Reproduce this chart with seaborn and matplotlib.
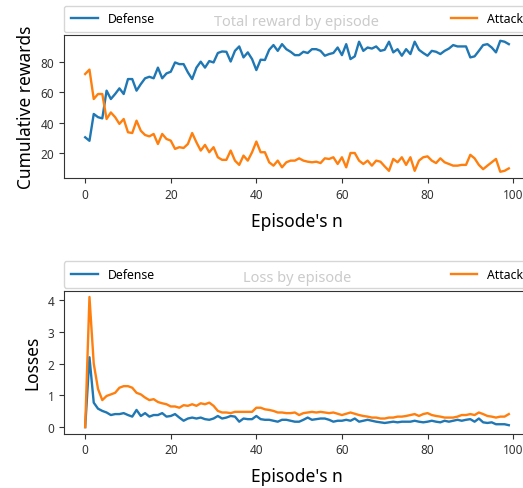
import numpy as np
import pandas as pd
import matplotlib
matplotlib.use("Agg")
import matplotlib.pyplot as plt
import seaborn as sns

plt.rcParams['font.family'] = ['Noto Sans', 'DejaVu Sans']

episodes = list(range(100))

reward_defense = [
    30.3, 28.0, 45.6, 43.5, 42.7, 60.9, 55.4, 58.7, 62.4, 58.7,
    68.5, 68.5, 60.9, 65.2, 69.0, 70.0, 69.0, 76.0, 69.0, 72.2,
    73.3, 79.4, 78.3, 78.3, 72.9, 68.5, 76.0, 79.9, 76.0, 80.3,
    79.4, 85.6, 86.6, 86.4, 80.0, 87.0, 89.9, 82.7, 86.0, 81.6,
    74.4, 81.2, 81.0, 87.7, 90.8, 87.0, 91.4, 88.1, 86.4, 84.2,
    84.2, 86.4, 85.6, 88.1, 88.1, 87.0, 83.8, 84.9, 85.6, 89.2,
    84.2, 91.4, 81.6, 83.4, 93.0, 87.0, 89.2, 88.5, 89.9, 87.0,
    87.7, 93.0, 86.0, 88.1, 83.8, 88.1, 84.9, 93.0, 87.7, 85.6,
    83.8, 87.0, 86.4, 84.9, 87.0, 88.5, 90.8, 89.9, 89.9, 89.9,
    82.7, 83.4, 87.0, 90.8, 91.4, 89.2, 86.0, 93.6, 93.0, 91.4,
]
reward_attack = [
    71.8, 74.7, 55.4, 58.7, 58.7, 42.3, 46.6, 43.5, 39.1, 42.3,
    33.6, 33.1, 41.2, 34.6, 31.8, 30.9, 32.5, 25.9, 32.5, 29.2,
    28.1, 22.7, 23.8, 23.3, 25.9, 33.1, 27.0, 21.6, 25.3, 20.5,
    23.8, 17.2, 15.5, 15.5, 21.6, 15.0, 12.2, 18.3, 15.0, 20.5,
    27.5, 20.5, 20.5, 13.9, 11.7, 15.0, 10.6, 13.9, 15.0, 15.0,
    16.5, 15.0, 14.3, 13.9, 14.3, 13.4, 16.5, 16.1, 17.2, 12.8,
    17.2, 10.6, 20.0, 20.0, 15.0, 12.8, 15.0, 11.7, 15.0, 14.3,
    11.2, 8.3, 16.1, 13.9, 17.2, 12.2, 17.2, 8.3, 15.0, 17.2,
    17.8, 15.0, 13.4, 16.5, 13.9, 12.8, 11.7, 11.7, 12.2, 12.2,
    18.8, 16.5, 12.2, 9.4, 11.7, 13.9, 16.1, 7.7, 8.3, 9.9,
]
loss_defense = [
    0.00, 2.20, 0.77, 0.58, 0.51, 0.46, 0.38, 0.41, 0.41, 0.44,
    0.38, 0.33, 0.54, 0.35, 0.44, 0.33, 0.38, 0.38, 0.44, 0.33,
    0.35, 0.41, 0.30, 0.20, 0.27, 0.30, 0.27, 0.30, 0.25, 0.23,
    0.27, 0.35, 0.27, 0.30, 0.35, 0.33, 0.17, 0.27, 0.25, 0.25,
    0.35, 0.25, 0.23, 0.23, 0.20, 0.17, 0.23, 0.23, 0.20, 0.17,
    0.17, 0.23, 0.30, 0.23, 0.25, 0.27, 0.27, 0.23, 0.17, 0.20,
    0.20, 0.23, 0.20, 0.27, 0.17, 0.20, 0.23, 0.20, 0.17, 0.15,
    0.13, 0.15, 0.17, 0.15, 0.17, 0.17, 0.17, 0.20, 0.17, 0.15,
    0.17, 0.20, 0.17, 0.15, 0.20, 0.17, 0.20, 0.23, 0.20, 0.23,
    0.25, 0.17, 0.27, 0.15, 0.13, 0.15, 0.09, 0.09, 0.09, 0.06,
]
loss_attack = [
    0.00, 4.10, 2.00, 1.20, 0.85, 0.98, 1.03, 1.08, 1.24, 1.29,
    1.29, 1.24, 1.08, 1.03, 0.93, 0.85, 0.88, 0.79, 0.75, 0.72,
    0.65, 0.65, 0.61, 0.69, 0.67, 0.72, 0.67, 0.75, 0.72, 0.77,
    0.67, 0.51, 0.46, 0.46, 0.44, 0.48, 0.48, 0.48, 0.48, 0.48,
    0.61, 0.61, 0.56, 0.54, 0.51, 0.46, 0.46, 0.44, 0.44, 0.46,
    0.38, 0.44, 0.46, 0.48, 0.46, 0.48, 0.46, 0.44, 0.46, 0.42,
    0.38, 0.42, 0.46, 0.42, 0.38, 0.35, 0.33, 0.30, 0.30, 0.27,
    0.27, 0.30, 0.30, 0.33, 0.33, 0.35, 0.38, 0.41, 0.35, 0.41,
    0.44, 0.38, 0.35, 0.33, 0.30, 0.30, 0.30, 0.33, 0.38, 0.38,
    0.41, 0.38, 0.46, 0.41, 0.35, 0.33, 0.30, 0.33, 0.33, 0.41,
]

series_names = ["Defense", "Attack"]
colors = ["#1f77b4", "#ff7f0e"]

reward_df = pd.DataFrame({
    "episode": episodes * 2,
    "value": reward_defense + reward_attack,
    "agent": [series_names[0]] * 100 + [series_names[1]] * 100,
})
loss_df = pd.DataFrame({
    "episode": episodes * 2,
    "value": loss_defense + loss_attack,
    "agent": [series_names[0]] * 100 + [series_names[1]] * 100,
})

fig = plt.figure(figsize=(5.23, 4.89), dpi=100)
ax1 = fig.add_axes([64 / 523, (489 - 179) / 489, 466 / 523, 143 / 489])
ax2 = fig.add_axes([64 / 523, (489 - 434.6) / 489, 466 / 523, 143 / 489])

panels = [
    (ax1, reward_df, "Total reward by episode", "Cumulative rewards", [20, 40, 60, 80]),
    (ax2, loss_df, "Loss by episode", "Losses", [0, 1, 2, 3, 4]),
]

for ax, df, title, ylabel, yticks in panels:
    sns.lineplot(data=df, x="episode", y="value", hue="agent",
                 palette=colors, linewidth=1.7, ax=ax, legend=False)
    ax.set_title(title, fontsize=10.5, color="black", pad=7)
    ax.set_xlabel("Episode's n", fontsize=12.5, labelpad=8)
    ax.set_ylabel(ylabel, fontsize=12.5)
    ax.set_xticks([0, 20, 40, 60, 80, 100])
    ax.set_yticks(yticks)
    ax.tick_params(labelsize=8.5, colors="#333333", length=3.5)
    for sp in ax.spines.values():
        sp.set_color("#333333")
    handles = ax.get_lines()[:2]
    ax.legend(handles, series_names, bbox_to_anchor=(0., 1.02, 1., .102),
              loc="lower left", ncol=2, mode="expand", borderaxespad=0.,
              fontsize=8.8, framealpha=0.8, borderpad=0.55,
              handlelength=2.2)

ax1.set_ylim(3.6, 97.4)
ax2.set_ylim(-0.205, 4.3)

fig.savefig("out.png", dpi=100)
